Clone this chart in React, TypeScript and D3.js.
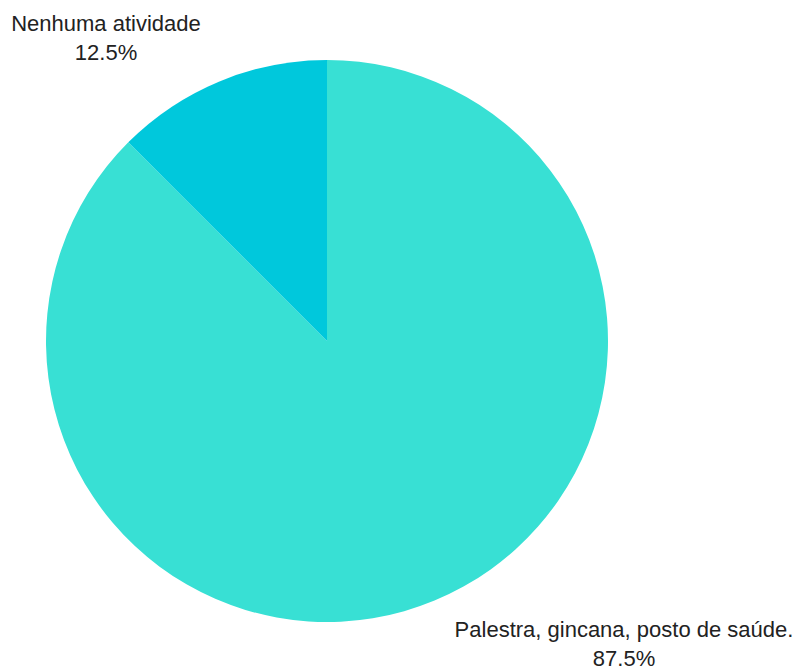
import React from "react";
import * as d3 from "d3";

const categories = ["Palestra, gincana, posto de saúde.", "Nenhuma atividade"];
const values = [87.5, 12.5];
const colors = ["#38E0D4", "#00C8DC"];

const W = 795, H = 667;
const cx = 327, cy = 341, R = 281;

export default function App() {
  const pie = d3.pie<number>().sort(null).startAngle(0).endAngle(2 * Math.PI);
  const arcs = pie(values);
  const arcGen = d3.arc<d3.PieArcDatum<number>>().innerRadius(0).outerRadius(R);
  const labelPos = [
    { x: 624, y: 637 },
    { x: 106, y: 31 },
  ];
  return (
    <svg width={W} height={H} style={{ position: "absolute", left: 0, top: 0 }}>
      <g transform={`translate(${cx},${cy})`}>
        {arcs.map((a, i) => (
          <path key={i} d={arcGen(a) || ""} fill={colors[i]} />
        ))}
      </g>
      {arcs.map((a, i) => (
        <text key={i} x={labelPos[i].x} y={labelPos[i].y} textAnchor="middle"
          fontFamily="'Liberation Sans', Arial, sans-serif" fontSize={22} fill="#222">
          <tspan x={labelPos[i].x}>{categories[i]}</tspan>
          <tspan x={labelPos[i].x} dy={29}>{values[i].toFixed(1)}%</tspan>
        </text>
      ))}
    </svg>
  );
}
